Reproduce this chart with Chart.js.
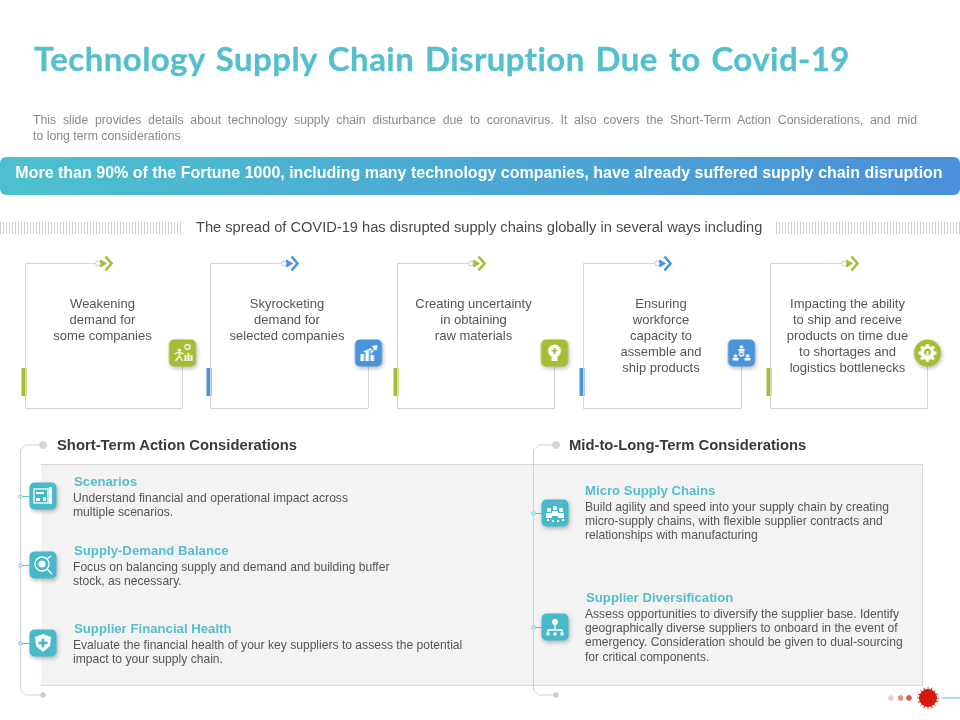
<!DOCTYPE html>
<html>
<head>
<meta charset="utf-8">
<title>Technology Supply Chain Disruption</title>
<script src="https://cdn.jsdelivr.net/npm/chart.js@4"></script>
<style>
html, body { margin: 0; padding: 0; background: #fff; }
#page { position: relative; width: 960px; height: 720px; overflow: hidden; font-family: "Liberation Sans", Arial, sans-serif; }
#page canvas { position: absolute; left: 0; top: 0; z-index: 2; }
.t { position: absolute; z-index: 3; white-space: nowrap; height: 20px; line-height: 20px; }
#panel { position: absolute; z-index: 1; left: 41px; top: 464px; width: 881px; height: 220px; background: #f3f3f3;
	border-top: 1px solid #d9d9d9; border-bottom: 1px solid #d9d9d9; border-right: 1px solid #d9d9d9; }
#banner { position: absolute; z-index: 1; left: 0; top: 157px; width: 960px; height: 38px; border-radius: 6px;
	background: linear-gradient(90deg, #4cc1ce, #4a90da); }
.hatch { position: absolute; z-index: 1; top: 222px; height: 12px;
	background: repeating-linear-gradient(90deg, #d2d2d2 0, #d2d2d2 1px, #fff 1px, #fff 3px); }
</style>
</head>
<body>
<div id="page">
	<div id="banner"></div>
	<div id="panel"></div>
	<div class="hatch" style="left:0;width:181px"></div>
	<div class="hatch" style="left:776px;width:184px"></div>
	<canvas id="slide" width="960" height="720"></canvas>
</div>
<script>
// texts
var titleText = "Technology Supply Chain Disruption Due to Covid-19";
var introLines = ["This slide provides details about technology supply chain disturbance due to coronavirus. It also covers the Short-Term Action Considerations, and mid", "to long term considerations"];
var bannerText = "More than 90% of the Fortune 1000, including many technology companies, have already suffered supply chain disruption";
var spreadText = "The spread of COVID-19 has disrupted supply chains globally in several ways including";
var cardLines = [
	["Weakening", "demand for", "some companies"],
	["Skyrocketing", "demand for", "selected companies"],
	["Creating uncertainty", "in obtaining", "raw materials"],
	["Ensuring", "workforce", "capacity to", "assemble and", "ship products"],
	["Impacting the ability", "to ship and receive", "products on time due", "to shortages and", "logistics bottlenecks"]
];
var sectionTitles = ["Short-Term Action Considerations", "Mid-to-Long-Term Considerations"];
var itemTitles = ["Scenarios", "Supply-Demand Balance", "Supplier Financial Health", "Micro Supply Chains", "Supplier Diversification"];
var itemLines = [
	["Understand financial and operational impact across", "multiple scenarios."],
	["Focus on balancing supply and demand and building buffer", "stock, as necessary."],
	["Evaluate the financial health of your key suppliers to assess the potential", "impact to your supply chain."],
	["Build agility and speed into your supply chain by creating", "micro-supply chains, with flexible supplier contracts and", "relationships with manufacturing"],
	["Assess opportunities to diversify the supplier base. Identify", "geographically diverse suppliers to onboard in the event of", "emergency. Consideration should be given to dual-sourcing", "for critical components."]
];

// slide layout, in slide pixels
var cardLeft = [25.5, 210.5, 397.5, 583.5, 770.5];
var cardRight = [182.5, 368.5, 554.5, 741.5, 927.5];
var cardCentre = [102.5, 287, 473.5, 661, 847.5];
var cardChevron = [105, 291, 478, 664, 851];
var railX = [20.5, 533.5];
var itemTileX = [43, 43, 43, 555, 555];
var itemTileY = [496, 565, 643, 513, 627];
var itemTitleX = [74, 74, 74, 585, 586];
var itemTitleY = [482, 551, 629, 491, 598];
var itemBodyX = [73, 73, 73, 585, 585];
var itemBodyY = [497.5, 566.5, 645, 507, 614];

var GREEN = '#a5bc34', BLUE = '#4a94da', TEAL = '#47b9c9', LINE = '#d5d5d5';
var cardColors = [GREEN, BLUE, GREEN, BLUE, GREEN];

var page = document.getElementById('page');
function addText(str, x, y, css) {
	var el = document.createElement('div');
	el.className = 't';
	el.textContent = str;
	el.style.cssText = 'top:' + (y - 10) + 'px;left:' + x + 'px;' + css;
	page.appendChild(el);
	return el;
}

addText(titleText, 34, 58, 'font:bold 33px Lato;line-height:20px;color:#55c0cd;letter-spacing:0.44px;word-spacing:2.3px;-webkit-text-stroke:0.3px #55c0cd;');
addText(introLines[0], 33, 119.5, 'font-size:12.3px;color:#8a8a8a;width:884px;white-space:normal;text-align:justify;text-align-last:justify;');
addText(introLines[1], 33, 135.5, 'font-size:12.3px;color:#8a8a8a;');
addText(bannerText, 0, 173, 'width:958px;text-align:center;font-weight:bold;font-size:16px;color:#fff;');
addText(spreadText, 196, 227, 'font-size:14.65px;color:#4a4a4a;');

cardLines.forEach(function(lines, i) {
	lines.forEach(function(line, j) {
		addText(line, cardCentre[i] - 90, 303.5 + j * 16, 'width:180px;text-align:center;font-size:13px;color:#555;');
	});
});
addText(sectionTitles[0], 57, 445, 'font-weight:bold;font-size:14.8px;color:#3a3a3a;');
addText(sectionTitles[1], 569, 445, 'font-weight:bold;font-size:14.8px;color:#3a3a3a;');
itemTitles.forEach(function(name, i) {
	addText(name, itemTitleX[i], itemTitleY[i], 'font-weight:bold;font-size:13.2px;color:#58bdcc;');
	itemLines[i].forEach(function(line, j) {
		addText(line, itemBodyX[i], itemBodyY[i] + j * 14.2, 'font-size:12.1px;color:#555;');
	});
});

// white glyphs for the icon tiles, drawn around 0,0
var glyphs = {
	walker: function(c) {
		c.beginPath(); c.arc(-3, -3, 1.6, 0, 7); c.fill();
		c.beginPath(); c.moveTo(-8, 1); c.lineTo(-3, -1); c.lineTo(1, 1); c.moveTo(-3, -1); c.lineTo(-3, 3); c.lineTo(-7, 8); c.moveTo(-3, 3); c.lineTo(0, 8); c.stroke();
		c.beginPath(); c.arc(5, -6, 2.5, 0, 7); c.stroke();
		c.fillRect(2, 2, 2, 6); c.fillRect(5, 0, 2, 8); c.fillRect(8, 2, 2, 6);
	},
	growth: function(c) {
		c.fillRect(-8, 1, 3.5, 7); c.fillRect(-3, -2, 3.5, 10); c.fillRect(2, 2, 3.5, 6);
		c.beginPath(); c.moveTo(-5, -1); c.lineTo(2, -4); c.lineTo(3, 0); c.lineTo(7, -6); c.stroke();
		c.beginPath(); c.moveTo(9, -8); c.lineTo(3, -7); c.lineTo(8, -2); c.fill();
	},
	head: function(c) {
		c.beginPath(); c.arc(0, -2, 6.5, 0, 7); c.fill();
		c.fillRect(-3, 2, 6, 6);
		c.fillStyle = GREEN; c.fillRect(-1, -5, 2, 6); c.fillRect(-3, -3, 6, 1.5);
	},
	team: function(c) {
		[[0, -6], [-6, 3], [6, 3]].forEach(function(p) {
			c.beginPath(); c.arc(p[0], p[1], 1.8, 0, 7); c.fill();
			c.fillRect(p[0] - 3, p[1] + 2, 6, 2.5);
		});
		c.beginPath(); c.arc(0, 1, 2, 0, 7); c.stroke();
	},
	gear: function(c) {
		c.beginPath(); c.arc(0, 0, 7, 0, 7); c.fill();
		for (var a = 0; a < 8; a++) { c.save(); c.rotate(a * Math.PI / 4); c.fillRect(-1.5, -9, 3, 3); c.restore(); }
		c.fillStyle = GREEN; c.beginPath(); c.arc(0, -1, 3.5, 0, 7); c.fill();
		c.fillStyle = '#fff'; c.fillRect(-1, -2, 2, 4);
	},
	board: function(c) {
		c.strokeRect(-9, -7, 14, 14);
		c.fillRect(-7, -4, 8, 2); c.fillRect(-7, 2, 4, 3); c.fillRect(0, 1, 3, 4);
		c.fillRect(6, -9, 3, 17);
	},
	target: function(c) {
		c.beginPath(); c.arc(-1, -1, 7, 0, 7); c.stroke();
		c.beginPath(); c.arc(-1, -1, 3.5, 0, 7); c.fill();
		c.beginPath(); c.moveTo(4, 4); c.lineTo(9, 9); c.moveTo(4, -6); c.lineTo(8, -9); c.stroke();
	},
	shield: function(c) {
		c.beginPath(); c.moveTo(0, -9); c.lineTo(8, -6); c.lineTo(7, 3); c.lineTo(0, 9); c.lineTo(-7, 3); c.lineTo(-8, -6); c.closePath(); c.fill();
		c.fillStyle = TEAL; c.fillRect(-1.3, -4.5, 2.6, 9); c.fillRect(-4.5, -1.3, 9, 2.6);
	},
	people: function(c) {
		[[-6, -3], [6, -3], [0, -5]].forEach(function(p) {
			c.beginPath(); c.arc(p[0], p[1], 2.2, 0, 7); c.fill();
			c.fillRect(p[0] - 3, p[1] + 3, 6, 5);
		});
		c.fillRect(-8, 6, 2, 2); c.fillRect(-3, 7, 2, 2); c.fillRect(2, 7, 2, 2); c.fillRect(7, 6, 2, 2);
	},
	tree: function(c) {
		c.beginPath(); c.arc(0, -5, 3, 0, 7); c.fill();
		c.beginPath(); c.moveTo(0, -2); c.lineTo(0, 3); c.moveTo(-7, 6); c.lineTo(-7, 3); c.lineTo(7, 3); c.lineTo(7, 6); c.stroke();
		[-7, 0, 7].forEach(function(x) { c.beginPath(); c.arc(x, 7, 1.8, 0, 7); c.fill(); });
	}
};

// icon tile as an image, used as a point style
function makeTile(color, glyph, round) {
	var cv = document.createElement('canvas');
	cv.width = 44; cv.height = 44;
	var c = cv.getContext('2d');
	c.translate(22, 22);
	c.shadowColor = 'rgba(0,0,0,0.28)'; c.shadowBlur = 4; c.shadowOffsetX = 1; c.shadowOffsetY = 2;
	c.fillStyle = color;
	c.beginPath();
	if (round) c.arc(0, 0, 13.5, 0, 7);
	else c.roundRect(-13.5, -13.5, 27, 27, 5);
	c.fill();
	c.shadowColor = 'transparent';
	c.fillStyle = '#fff'; c.strokeStyle = '#fff'; c.lineWidth = 1.3;
	glyphs[glyph](c);
	return cv;
}

var tileStyles = [
	makeTile(GREEN, 'walker'), makeTile(BLUE, 'growth'), makeTile(GREEN, 'head'), makeTile(BLUE, 'team'), makeTile(GREEN, 'gear', true),
	makeTile(TEAL, 'board'), makeTile(TEAL, 'target'), makeTile(TEAL, 'shield'), makeTile(TEAL, 'people'), makeTile(TEAL, 'tree')
];

function pts(xs, ys) {
	return xs.map(function(x, i) { return { x: x, y: ys[i] }; });
}
function lineSet(data, color, width) {
	return { data: data, showLine: true, borderColor: color, borderWidth: width, pointRadius: 0, tension: 0, clip: false };
}
function dotSet(data, radius, fill, border, style) {
	return { data: data, showLine: false, pointRadius: radius, pointStyle: style || 'circle', backgroundColor: fill, borderColor: border, borderWidth: 1, clip: false };
}

var datasets = [];
// first in the list is drawn on top
datasets.push({
	data: pts(cardRight.concat(itemTileX), cardRight.map(function() { return 353; }).concat(itemTileY)),
	showLine: false, pointRadius: 14, pointStyle: tileStyles, clip: false
});
datasets.push(dotSet(pts(cardChevron.map(function(x) { return x - 7; }), cardChevron.map(function() { return 263.5; })), 2.4, '#fff', '#c8c8c8'));

cardLeft.forEach(function(left, i) {
	var right = cardRight[i], tip = cardChevron[i];
	// frame
	datasets.push(lineSet(pts([tip - 9, left, left, right, right], [263.5, 263.5, 408.5, 408.5, 353]), LINE, 1));
	// accent bar
	datasets.push(lineSet(pts([left - 1.5, left - 1.5], [368, 396]), cardColors[i], 5));
	// chevron
	datasets.push(lineSet(pts([tip + 0.5, tip + 6.5, tip + 0.5], [256.5, 263.5, 270.5]), cardColors[i], 2.6));
	var arrowHead = dotSet(pts([tip - 2.5], [263.5]), 4, cardColors[i], cardColors[i], 'triangle');
	arrowHead.rotation = 90;
	datasets.push(arrowHead);
});

railX.forEach(function(x) {
	var end = x + 22.5;
	datasets.push(lineSet(pts([end, x + 5, x, x, x + 5, end], [445, 445, 450, 690, 695, 695]), '#cfd5d8', 1));
	datasets.push(dotSet([{ x: end, y: 445 }], 3.5, '#d6d6d6', '#d6d6d6'));
	datasets.push(dotSet([{ x: end, y: 695 }], 2.4, '#cfcfcf', '#cfcfcf'));
});
itemTileY.forEach(function(y, i) {
	var x = i < 3 ? railX[0] : railX[1];
	datasets.push(dotSet([{ x: x, y: y + 0.5 }], 1.8, '#fff', '#63c3d2'));
	datasets.push(lineSet(pts([x + 2, x + 9], [y + 0.5, y + 0.5]), '#63c3d2', 1));
});

// virus mark, bottom right
datasets.push(dotSet(pts([928], [698]), 8.5, '#d4190e', '#d4190e'));
datasets.push({ data: pts([928], [698]), showLine: false, pointRadius: 11, pointStyle: 'star', borderColor: '#d4190e', borderWidth: 1, rotation: 22, clip: false });
datasets.push({ data: pts([928], [698]), showLine: false, pointRadius: 11, pointStyle: 'star', borderColor: '#e0483f', borderWidth: 1, clip: false });
datasets.push(dotSet(pts([891], [698]), 2.4, '#f0cfcc', '#f0cfcc'));
datasets.push(dotSet(pts([900.5], [698]), 2.4, '#e2918a', '#e2918a'));
datasets.push(dotSet(pts([909], [698]), 2.4, '#d8534a', '#d8534a'));
datasets.push(lineSet(pts([942, 960], [698, 698]), '#5bb9cb', 1));

var slide = new Chart(document.getElementById('slide').getContext('2d'), {
	type: 'scatter',
	data: { datasets: datasets },
	options: {
		responsive: false,
		animation: false,
		events: [],
		layout: { padding: 0, autoPadding: false },
		plugins: { legend: { display: false }, tooltip: { enabled: false } },
		scales: {
			x: { type: 'linear', min: 0, max: 960, display: false },
			y: { type: 'linear', min: 0, max: 720, reverse: true, display: false }
		}
	}
});
</script>
</body>
</html>
